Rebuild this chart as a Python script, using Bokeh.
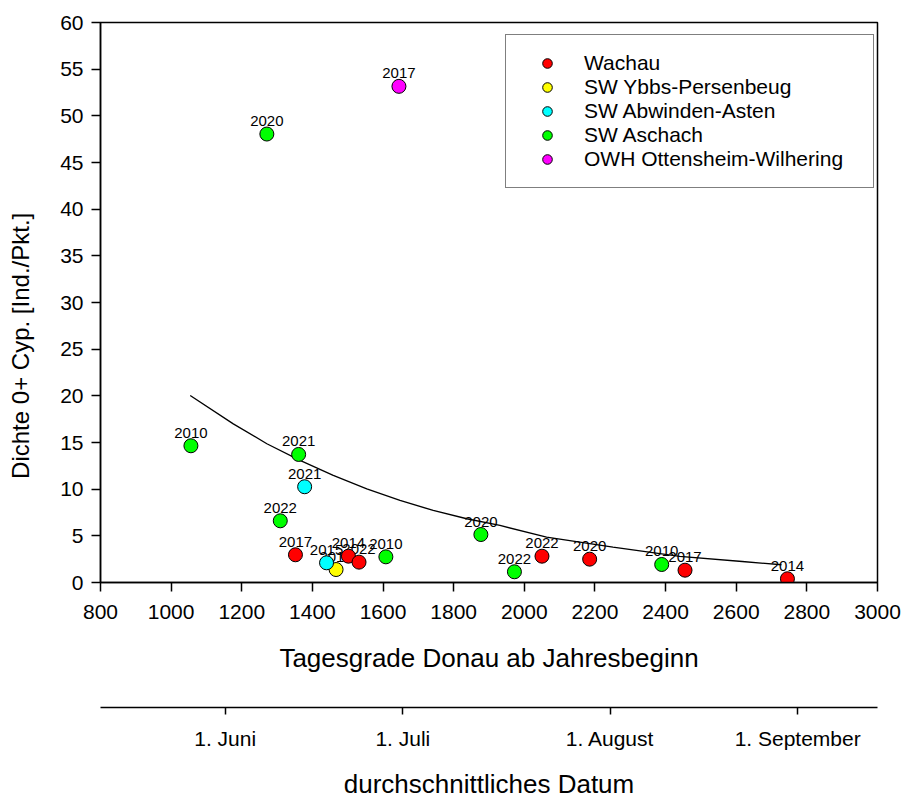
from bokeh.plotting import figure
from bokeh.models import FixedTicker, LinearAxis, Range1d, Legend, LegendItem, ColumnDataSource
from bokeh.core.properties import value
from bokeh.embed import file_html
from bokeh.resources import INLINE

# ---------------- data ----------------
series_names = ["Wachau", "SW Ybbs-Persenbeug", "SW Abwinden-Asten",
                "SW Aschach", "OWH Ottensheim-Wilhering"]
series_colors = ["#ff0000", "#ffff00", "#00ffff", "#00ff00", "#ff00ff"]

wachau_x = [1352, 1502, 1532, 2050, 2185, 2455, 2745]
wachau_y = [2.97, 2.82, 2.18, 2.82, 2.50, 1.32, 0.40]
wachau_year = ["2017", "2014", "2022", "2022", "2020", "2017", "2014"]

ybbs_x = [1467]
ybbs_y = [1.39]
ybbs_year = ["2015"]

abwinden_x = [1378, 1440]
abwinden_y = [10.26, 2.11]
abwinden_year = ["2021", "2015"]

aschach_x = [1056, 1271, 1361, 1309, 1608, 1877, 1972, 2389]
aschach_y = [14.65, 48.05, 13.72, 6.61, 2.75, 5.14, 1.15, 1.93]
aschach_year = ["2010", "2020", "2021", "2022", "2010", "2020", "2022", "2010"]

owh_x = [1645]
owh_y = [53.16]
owh_year = ["2017"]

trend_x = [1054, 1176, 1271, 1365, 1459, 1554, 1648, 1742, 1837, 1931,
           2063, 2251, 2440, 2617, 2728]
trend_y = [20.04, 17.0, 14.87, 13.08, 11.47, 10.04, 8.79, 7.72, 6.83, 6.11,
           4.86, 3.78, 2.79, 2.25, 1.90]

x_ticks = [800, 1000, 1200, 1400, 1600, 1800, 2000, 2200, 2400, 2600, 2800, 3000]
y_ticks = [0, 5, 10, 15, 20, 25, 30, 35, 40, 45, 50, 55, 60]

date_tick_pos = [1153, 1656, 2243, 2774]
date_tick_labels = ["1. Juni", "1. Juli", "1. August", "1. September"]

x_title = "Tagesgrade Donau ab Jahresbeginn"
y_title = "Dichte 0+ Cyp. [Ind./Pkt.]"
date_title = "durchschnittliches Datum"

FONT = "Liberation Sans"

# ---------------- figure ----------------
p = figure(frame_width=777, frame_height=560,
           x_range=Range1d(800, 3000), y_range=Range1d(0, 60),
           output_backend="svg", toolbar_location=None,
           min_border_left=100, min_border_right=27, min_border_top=22,
           min_border_bottom=0)
p.grid.visible = False
p.outline_line_color = "black"
p.outline_line_width = 1.5
p.background_fill_color = "white"
p.border_fill_color = "white"


def style_axis(ax, tick_out, label_size, standoff, title_size, title_standoff):
    ax.axis_line_color = "black"
    ax.axis_line_width = 1.5
    ax.major_tick_line_color = "black"
    ax.major_tick_line_width = 1.5
    ax.major_tick_in = 0
    ax.major_tick_out = tick_out
    ax.minor_tick_in = 0
    ax.minor_tick_out = 0
    ax.minor_tick_line_color = None
    ax.major_label_text_font = FONT
    ax.major_label_text_font_size = label_size
    ax.major_label_text_color = "black"
    ax.major_label_standoff = standoff
    ax.axis_label_text_font = FONT
    ax.axis_label_text_font_size = title_size
    ax.axis_label_text_font_style = "normal"
    ax.axis_label_text_color = "black"
    ax.axis_label_standoff = title_standoff


xa = p.xaxis[0]
xa.ticker = FixedTicker(ticks=x_ticks)
xa.axis_label = x_title
style_axis(xa, 9, "21px", 13, "26px", 21)

ya = p.yaxis[0]
ya.ticker = FixedTicker(ticks=y_ticks)
ya.axis_label = y_title + " " * 13
style_axis(ya, 9, "21px", 8, "24px", 23)

# invisible spacer between the two bottom axes (one white tick at the frame edge)
spacer = LinearAxis(ticker=FixedTicker(ticks=[x_ticks[0]]),
                    major_label_overrides={x_ticks[0]: ""})
spacer.axis_line_color = None
spacer.major_tick_line_color = "white"
spacer.minor_tick_line_color = None
spacer.major_tick_in = 0
spacer.major_tick_out = 32
spacer.minor_tick_in = 0
spacer.minor_tick_out = 0
spacer.major_label_standoff = 0
spacer.major_label_text_font_size = "1px"
spacer.major_label_text_color = "white"
p.add_layout(spacer, "below")

# secondary date axis
date_axis = LinearAxis(ticker=FixedTicker(ticks=date_tick_pos),
                       major_label_overrides={t: l for t, l in zip(date_tick_pos, date_tick_labels)},
                       axis_label=date_title)
style_axis(date_axis, 7, "21px", 12, "26px", 16)
p.add_layout(date_axis, "below")

# ---------------- trend curve ----------------
p.line(trend_x, trend_y, line_color="black", line_width=1.3)

# ---------------- points and year labels ----------------
groups = [
    (wachau_x, wachau_y, wachau_year),
    (ybbs_x, ybbs_y, ybbs_year),
    (abwinden_x, abwinden_y, abwinden_year),
    (aschach_x, aschach_y, aschach_year),
    (owh_x, owh_y, owh_year),
]

for gx, gy, gyear in groups:
    src = ColumnDataSource(dict(x=gx, y=gy, t=gyear))
    p.text(x="x", y="y", text="t", source=src, text_align="center",
           text_baseline="alphabetic", y_offset=-13,
           text_font=value(FONT), text_font_size="15px", text_color="black")

items = []
for (gx, gy, gyear), name, col in zip(groups, series_names, series_colors):
    src = ColumnDataSource(dict(x=gx, y=gy))
    r = p.scatter(x="x", y="y", source=src, size=14, fill_color=col,
                  line_color="black", line_width=1)
    items.append(LegendItem(label=name, renderers=[r]))

legend = Legend(items=items, location=(405, 394))
legend.padding = 16
legend.margin = 0
legend.spacing = 0
legend.glyph_width = 50
legend.glyph_height = 24
legend.label_height = 24
legend.label_standoff = 12
legend.label_width = 273
legend.label_text_font = FONT
legend.label_text_font_size = "21px"
legend.label_text_color = "black"
legend.border_line_color = "black"
legend.border_line_width = 1.2
legend.background_fill_color = "white"
legend.background_fill_alpha = 1.0
p.add_layout(legend)

open("out.html", "w").write(file_html(p, INLINE))
